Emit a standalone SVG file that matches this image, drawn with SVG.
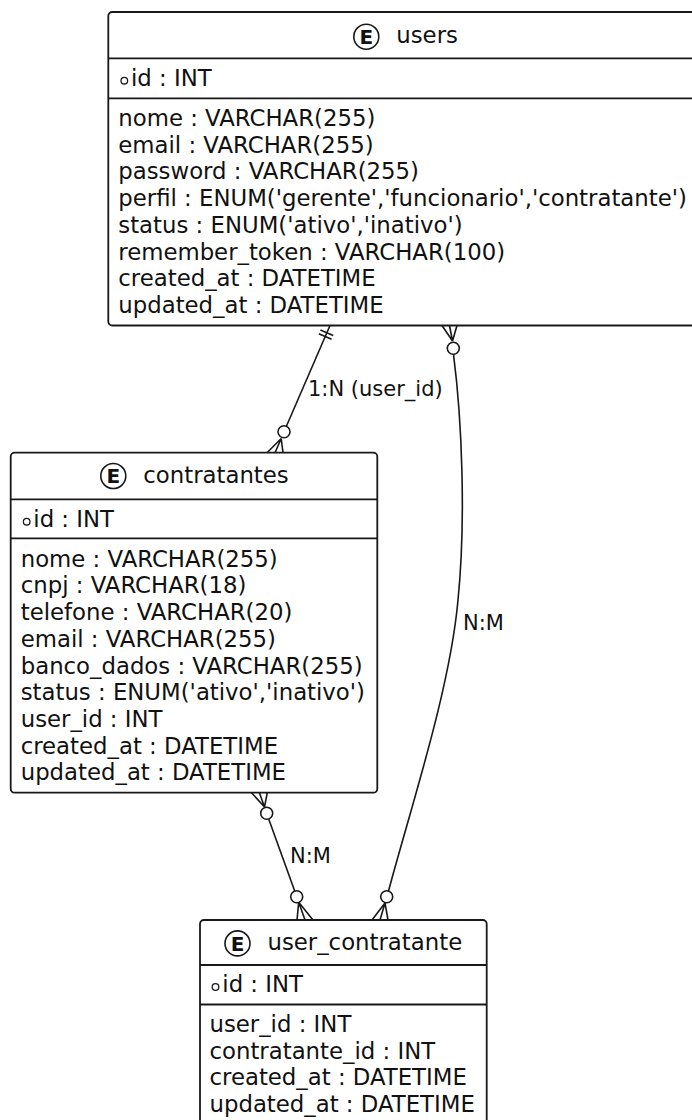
<svg xmlns="http://www.w3.org/2000/svg" width="692" height="1120" viewBox="0 0 692 1120">
<style>
.box{fill:#fff;stroke:#181818;stroke-width:1.8}
.sep{stroke:#181818;stroke-width:1.8}
.t{font-family:"DejaVu Sans","Liberation Sans",sans-serif;font-size:22.8px;fill:#111}
.lbl{font-family:"DejaVu Sans","Liberation Sans",sans-serif;font-size:21px;fill:#111}
.spot{fill:#fff;stroke:#181818;stroke-width:1.6}
.E{font-family:"DejaVu Sans","Liberation Sans",sans-serif;font-weight:bold;font-size:20px;text-anchor:middle;fill:#111}
.pk{fill:none;stroke:#181818;stroke-width:1.3}
.link{fill:none;stroke:#181818;stroke-width:1.6}
.ring{fill:#fff;stroke:#181818;stroke-width:1.6}
</style>
<rect width="692" height="1120" fill="#fff"/>

<g id="users">
<rect class="box" x="108.3" y="12" width="595" height="313.5" rx="4"/>
<line class="sep" x1="108.3" y1="58.3" x2="703.3" y2="58.3"/>
<line class="sep" x1="108.3" y1="98.3" x2="703.3" y2="98.3"/>
<circle class="spot" cx="366.3" cy="36.7" r="12.5"/>
<text class="E" x="366.3" y="44">E</text>
<text class="t" x="396.3" y="43.3">users</text>
<circle class="pk" cx="124.3" cy="80.7" r="3.3"/>
<text class="t" x="131" y="86">id : INT</text>
<text class="t" x="118.3" y="126">nome : VARCHAR(255)</text>
<text class="t" x="118.3" y="152.7">email : VARCHAR(255)</text>
<text class="t" x="118.3" y="179.4">password : VARCHAR(255)</text>
<text class="t" x="118.3" y="206.1">perfil : ENUM('gerente','funcionario','contratante')</text>
<text class="t" x="118.3" y="232.8">status : ENUM('ativo','inativo')</text>
<text class="t" x="118.3" y="259.5">remember_token : VARCHAR(100)</text>
<text class="t" x="118.3" y="286.2">created_at : DATETIME</text>
<text class="t" x="118.3" y="312.9">updated_at : DATETIME</text>
</g>

<g id="contratantes">
<rect class="box" x="10.7" y="452.7" width="366.6" height="340" rx="4"/>
<line class="sep" x1="10.7" y1="499.3" x2="377.3" y2="499.3"/>
<line class="sep" x1="10.7" y1="538.3" x2="377.3" y2="538.3"/>
<circle class="spot" cx="113.3" cy="476" r="12.5"/>
<text class="E" x="113.3" y="483.3">E</text>
<text class="t" x="143.3" y="482.7">contratantes</text>
<circle class="pk" cx="26.7" cy="521.7" r="3.3"/>
<text class="t" x="33.3" y="527">id : INT</text>
<text class="t" x="20.7" y="566.7">nome : VARCHAR(255)</text>
<text class="t" x="20.7" y="593.4">cnpj : VARCHAR(18)</text>
<text class="t" x="20.7" y="620.1">telefone : VARCHAR(20)</text>
<text class="t" x="20.7" y="646.8">email : VARCHAR(255)</text>
<text class="t" x="20.7" y="673.5">banco_dados : VARCHAR(255)</text>
<text class="t" x="20.7" y="700.2">status : ENUM('ativo','inativo')</text>
<text class="t" x="20.7" y="726.9">user_id : INT</text>
<text class="t" x="20.7" y="753.6">created_at : DATETIME</text>
<text class="t" x="20.7" y="780.3">updated_at : DATETIME</text>
</g>

<g id="user_contratante">
<rect class="box" x="200" y="920" width="286.7" height="206" rx="4"/>
<line class="sep" x1="200" y1="965" x2="486.7" y2="965"/>
<line class="sep" x1="200" y1="1004.5" x2="486.7" y2="1004.5"/>
<circle class="spot" cx="237.5" cy="943.4" r="12.5"/>
<text class="E" x="237.5" y="950.7">E</text>
<text class="t" x="267.5" y="950">user_contratante</text>
<circle class="pk" cx="215.5" cy="987" r="3.3"/>
<text class="t" x="222.3" y="992.3">id : INT</text>
<text class="t" x="209.5" y="1032">user_id : INT</text>
<text class="t" x="209.5" y="1058.7">contratante_id : INT</text>
<text class="t" x="209.5" y="1085.4">created_at : DATETIME</text>
<text class="t" x="209.5" y="1112.1">updated_at : DATETIME</text>
</g>

<g id="connectors">
<!-- users 1:N contratantes -->
<line class="link" x1="330" y1="325.5" x2="286.4" y2="426.2"/>
<line class="link" x1="320.4" y1="330" x2="333.2" y2="335.6"/>
<line class="link" x1="318.8" y1="333.7" x2="331.6" y2="339.3"/>
<circle class="ring" cx="284" cy="431.7" r="6"/>
<path class="link" d="M267,452.7 L281.2,438.5 L275,452.7 M281.2,438.5 L283,452.7"/>
<text class="lbl" x="308" y="396">1:N (user_id)</text>

<!-- contratantes N:M user_contratante -->
<path class="link" d="M251.5,792.7 L264.5,807 L259.4,792.7 M264.5,807 L267.3,792.7"/>
<circle class="ring" cx="266.7" cy="813.3" r="6"/>
<line class="link" x1="268.7" y1="818.9" x2="294.7" y2="891"/>
<circle class="ring" cx="296.7" cy="896.7" r="6"/>
<path class="link" d="M297,920 L298.7,902.3 L305,920 M298.7,902.3 L313,920"/>
<text class="lbl" x="290" y="863">N:M</text>

<!-- users N:M user_contratante -->
<path class="link" d="M442,325.5 L452.5,341 L449.5,325.5 M452.5,341 L457,325.5"/>
<circle class="ring" cx="453.3" cy="348.3" r="6"/>
<path class="link" d="M453.5,354.3 C462,420 466,520 458,600 C450,690 410,810 388.5,891"/>
<circle class="ring" cx="386.7" cy="896.7" r="6"/>
<path class="link" d="M372,920 L385,903 L380,920 M385,903 L388,920"/>
<text class="lbl" x="463" y="630">N:M</text>
</g>
</svg>
